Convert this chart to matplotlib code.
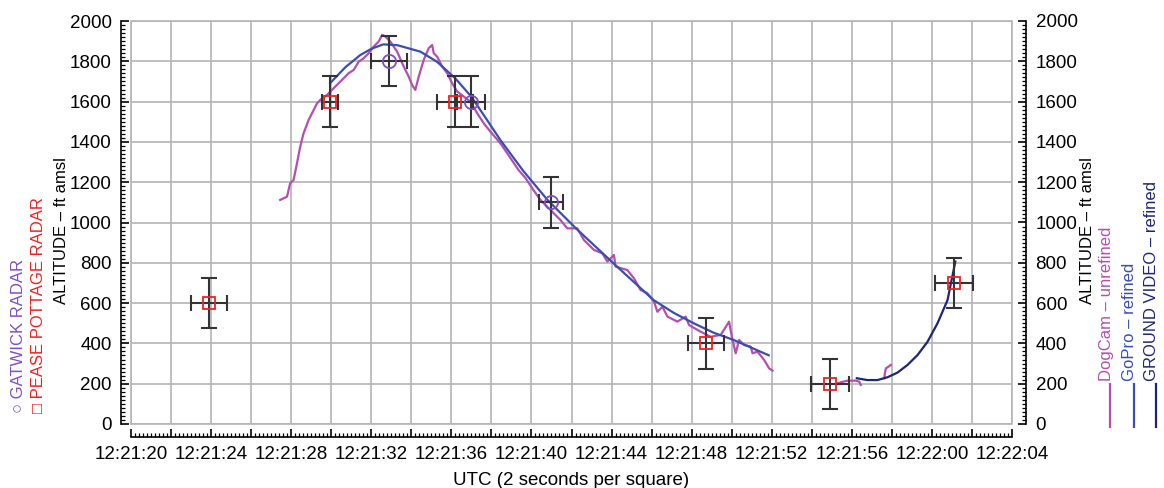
import numpy as np
import matplotlib
matplotlib.use("Agg")
import matplotlib.pyplot as plt
from matplotlib.ticker import MultipleLocator, FuncFormatter
from matplotlib.lines import Line2D
from matplotlib.patches import Rectangle

plt.rcParams['font.family'] = ['Liberation Sans', 'DejaVu Sans']

# times are seconds after 12:21:00 UTC, altitudes in ft amsl
gatwick_t = [32.9, 37.0, 41.0]
gatwick_alt = [1800, 1600, 1100]
gatwick_terr = [0.9, 0.7, 0.6]

pease_t = [23.9, 29.95, 36.2, 48.7, 54.9, 61.1]
pease_alt = [600, 1600, 1600, 400, 200, 700]
pease_terr = [0.9, 0.4, 0.9, 0.9, 0.95, 0.95]

alt_err = 125

gopro_t = [29.95, 30.7, 31.45, 32.0, 32.6, 33.3, 34.45, 35.28, 36.2, 37.0, 37.78,
           38.45, 39.6, 40.8, 42.2, 44.1, 45.1, 46.1, 47.1, 48.1, 49.1, 50.1, 51.85]
gopro_alt = [1692, 1770, 1831, 1862, 1884, 1880, 1848, 1798, 1715, 1624, 1509,
             1409, 1255, 1112, 973, 797, 706, 615, 552, 500, 453, 417, 341]

ground_t = [56.25, 56.78, 57.28, 57.78, 58.28, 58.78, 59.28, 59.78, 60.28, 60.78, 61.17]
ground_alt = [227, 218, 218, 232, 255, 293, 342, 408, 500, 615, 806]

dog1_t = [27.45, 27.62, 27.79, 27.95, 28.12, 28.29, 28.45, 28.62, 28.87, 29.04,
          29.29, 29.45, 29.79, 30.12, 30.45, 30.70, 30.87, 31.12, 31.37, 31.62,
          31.87, 32.12, 32.37, 32.54, 32.70, 32.95, 33.29, 33.62, 33.87, 34.04,
          34.20, 34.37, 34.62, 34.87, 35.04, 35.12, 35.29, 35.54, 35.79, 36.04,
          36.29, 36.62, 36.95, 37.29, 37.62, 37.95, 38.45, 38.95, 39.35, 39.70,
          40.10, 40.45, 40.79, 41.45, 41.79, 42.29, 42.62, 43.12, 43.54, 43.79,
          44.12, 44.20, 44.79, 45.12, 45.45, 45.79, 46.12, 46.29, 46.54, 46.79,
          47.29, 47.70, 47.87, 48.45, 48.95, 49.45, 49.87, 50.04, 50.20, 50.37,
          50.62, 50.95, 51.04, 51.29, 51.62, 51.87, 52.04]
dog1_alt = [1112, 1120, 1128, 1195, 1211, 1294, 1376, 1443, 1509, 1542,
            1591, 1608, 1633, 1666, 1699, 1724, 1741, 1757, 1798, 1815,
            1840, 1873, 1898, 1931, 1923, 1898, 1848, 1774, 1724, 1682,
            1658, 1724, 1807, 1865, 1881, 1840, 1823, 1774, 1741, 1691,
            1650, 1625, 1600, 1542, 1492, 1451, 1393, 1320, 1261, 1221,
            1161, 1112, 1078, 1012, 971, 971, 913, 864, 847, 806,
            839, 781, 764, 723, 665, 649, 607, 557, 582, 533,
            508, 533, 491, 458, 433, 442, 508, 417, 351, 417,
            392, 384, 351, 359, 318, 276, 265]
dog2_t = [55.2, 55.45, 55.79, 56.2, 56.37, 56.45]
dog2_alt = [199, 207, 215, 215, 210, 194]
dog3_t = [57.62, 57.65, 57.7, 57.95]
dog3_alt = [227, 251, 276, 293]

c_dog = '#b34fb0'
c_gopro = '#3a4db3'
c_ground = '#1e247a'
c_gatwick = '#7d4fc4'
c_pease = '#ee2222'
c_err = '#333333'

W, H = 1164, 488
fig = plt.figure(figsize=(W / 100, H / 100), dpi=100)
ax = fig.add_axes([131 / W, 1 - 424 / H, (1012 - 131) / W, (424 - 21) / H])

ax.plot(dog1_t, dog1_alt, color=c_dog, lw=1.6, zorder=3)
ax.plot(dog2_t, dog2_alt, color=c_dog, lw=1.6, zorder=3)
ax.plot(dog3_t, dog3_alt, color=c_dog, lw=1.6, zorder=3)
ax.plot(gopro_t, gopro_alt, color=c_gopro, lw=1.6, zorder=4)
ax.plot(ground_t, ground_alt, color=c_ground, lw=1.6, zorder=4)

ax.errorbar(pease_t, pease_alt, xerr=pease_terr, yerr=alt_err, fmt='none',
            ecolor=c_err, elinewidth=1.5, capsize=6, capthick=1.5, zorder=5)
ax.errorbar(gatwick_t, gatwick_alt, xerr=gatwick_terr, yerr=alt_err, fmt='none',
            ecolor=c_err, elinewidth=1.5, capsize=6, capthick=1.5, zorder=5)
ax.plot(pease_t, pease_alt, 's', ms=9, mfc='none', mec=c_pease, mew=1.3, zorder=6)
ax.plot(gatwick_t, gatwick_alt, 'o', ms=9.5, mfc='none', mec=c_gatwick, mew=1.3, zorder=6)

ax.set_xlim(20, 64)
ax.set_ylim(0, 2000)


def utc_label(s, pos):
    s = int(round(s))
    if s % 4:
        return ''
    return f"12:{21 + s // 60}:{s % 60:02d}"


ax.xaxis.set_major_locator(MultipleLocator(2))
ax.xaxis.set_minor_locator(MultipleLocator(0.2))
ax.xaxis.set_major_formatter(FuncFormatter(utc_label))
ax.yaxis.set_major_locator(MultipleLocator(200))
ax.yaxis.set_minor_locator(MultipleLocator(20))

ax.grid(True, which='major', color='#b4b4b8', lw=1.2)
ax.add_patch(Rectangle((0, 0), 1, 1, transform=ax.transAxes, fill=False,
                       ec='#b4b4b8', lw=1.2, clip_on=False, zorder=1))

for side in ('top', 'right'):
    ax.spines[side].set_visible(False)
ax.spines['left'].set_position(('outward', 7))
ax.spines['bottom'].set_position(('outward', 9))
for side in ('left', 'bottom'):
    ax.spines[side].set_linewidth(1.2)

tick_kw = dict(direction='in', colors='black', labelsize=13.5)
ax.tick_params(which='major', length=6, width=1.2, pad=7, **tick_kw)
ax.tick_params(which='minor', length=3, width=0.9, direction='in')
ax.set_xlabel('UTC (2 seconds per square)', fontsize=13.5, labelpad=6)

ax2 = ax.twinx()
ax2.set_ylim(0, 2000)
for side in ('top', 'left', 'bottom'):
    ax2.spines[side].set_visible(False)
ax2.spines['right'].set_position(('outward', 10))
ax2.spines['right'].set_linewidth(1.2)
ax2.yaxis.set_major_locator(MultipleLocator(200))
ax2.yaxis.set_minor_locator(MultipleLocator(20))
ax2.tick_params(which='major', length=6, width=1.2, pad=7, **tick_kw)
ax2.tick_params(which='minor', length=3, width=0.9, direction='in')

# axis titles and the side keys
fig.text(61 / W, 1 - 231 / H, 'ALTITUDE – ft amsl', rotation=90,
         ha='center', va='center', fontsize=12)
fig.text(1088 / W, 1 - 231 / H, 'ALTITUDE – ft amsl', rotation=90,
         ha='center', va='center', fontsize=12)

fig.text(19 / W, 1 - 413 / H, '○ GATWICK RADAR', rotation=90, ha='center',
         va='bottom', fontsize=12, color=c_gatwick)
fig.text(39 / W, 1 - 413 / H, '□ PEASE POTTAGE RADAR', rotation=90, ha='center',
         va='bottom', fontsize=12, color=c_pease)

keys = [('DogCam – unrefined', c_dog, 1106),
        ('GoPro – refined', c_gopro, 1130),
        ('GROUND VIDEO – refined', c_ground, 1152)]
for label, col, xc in keys:
    fig.text(xc / W, 1 - 381 / H, label, rotation=90, ha='center', va='bottom',
             fontsize=12, color=col)
    fig.add_artist(Line2D([(xc + 4) / W] * 2, [1 - 427 / H, 1 - 384 / H],
                          color=col, lw=1.6, transform=fig.transFigure))

fig.savefig('out.png', dpi=100)
